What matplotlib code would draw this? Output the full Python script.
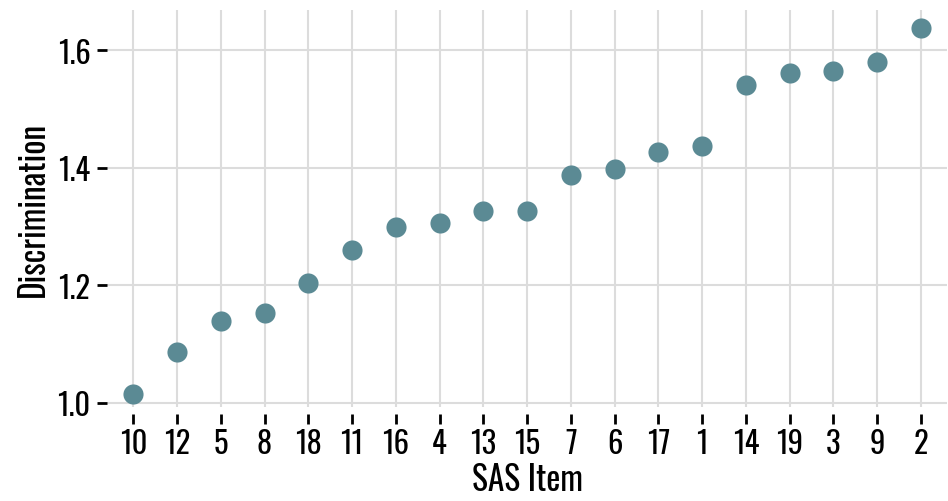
import matplotlib
matplotlib.use('Agg')
import matplotlib.pyplot as plt
import matplotlib as mpl

items = ['10', '12', '5', '8', '18', '11', '16', '4', '13', '15',
         '7', '6', '17', '1', '14', '19', '3', '9', '2']
discrimination = [1.015, 1.087, 1.139, 1.153, 1.204, 1.260, 1.299, 1.306, 1.327, 1.327,
                  1.388, 1.398, 1.427, 1.437, 1.541, 1.561, 1.565, 1.580, 1.638]
yticks = [1.0, 1.2, 1.4, 1.6]

mpl.rcParams['font.family'] = ['Oswald', 'DejaVu Sans']
mpl.rcParams['font.weight'] = 'light'

fig = plt.figure(figsize=(9.48, 5.02), dpi=100)
ax = fig.add_axes([0.1129, 0.1873, 0.8861, 0.7907])

x = list(range(len(items)))
ax.scatter(x, discrimination, s=210, color='#5b8a94', zorder=3, linewidths=0)

ax.set_xlim(-0.6, len(items) - 0.4)
ax.set_ylim(0.993, 1.668)
ax.set_xticks(x)
ax.set_xticklabels(items)
ax.set_yticks(yticks)
ax.set_yticklabels(['%.1f' % v for v in yticks])

ax.grid(True, color='#dcdcdc', linewidth=1.5, zorder=0)
ax.set_axisbelow(True)
for sp in ax.spines.values():
    sp.set_visible(False)
ax.spines['bottom'].set_position(('outward', 5))

ax.tick_params(axis='x', length=7, width=2, color='black', labelsize=22, pad=3)
ax.tick_params(axis='y', length=7, width=2, color='black', labelsize=22, pad=5)

ax.set_xlabel('SAS Item', fontsize=24, labelpad=2)
ax.set_ylabel('Discrimination', fontsize=24, labelpad=5)

fig.savefig('out.png', dpi=100)
